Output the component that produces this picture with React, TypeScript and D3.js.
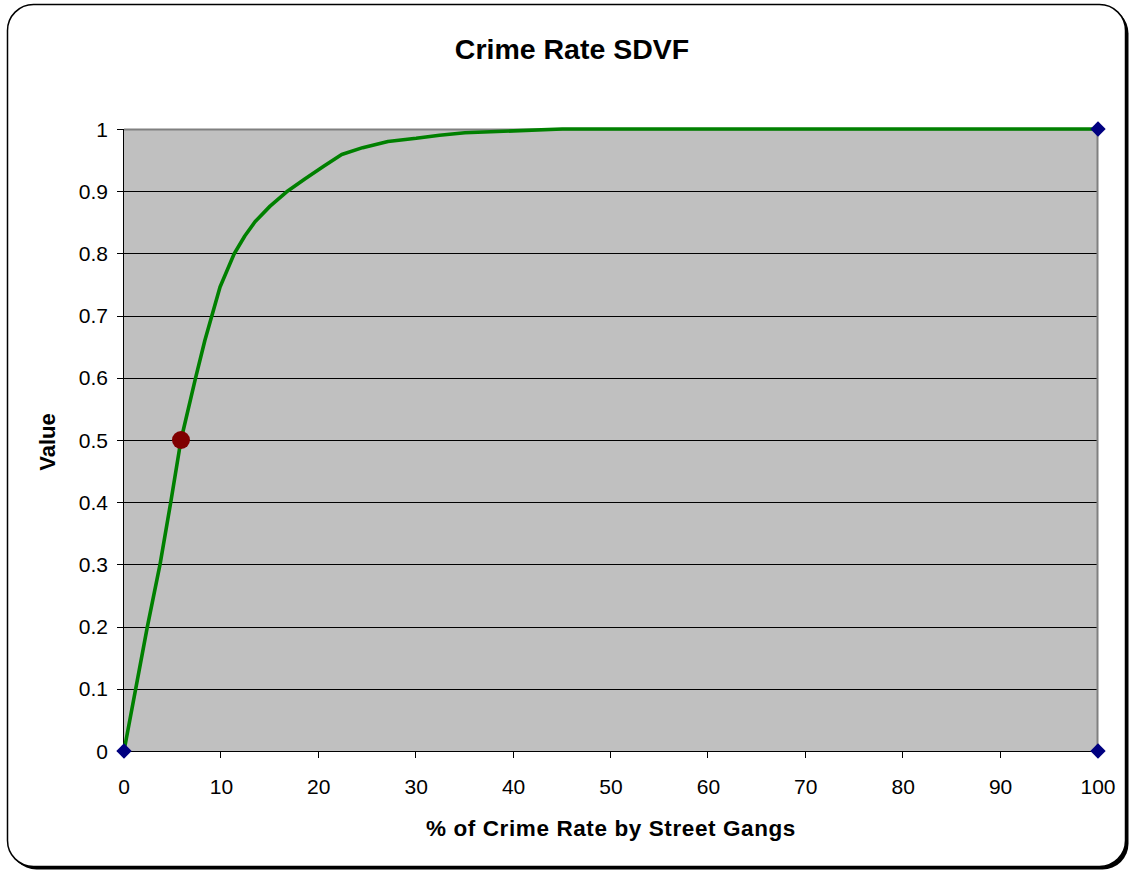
import React from "react";
import * as d3 from "d3";

const curveX = [0, 1.2, 2.4, 3.7, 4.8, 5.85, 7.35, 8.3, 9.86, 11.3, 12.4, 13.45, 15.0, 16.7, 18.6, 20.5, 22.35, 24.5, 27.1, 30.0, 32.4, 35.0, 40.0, 45.0, 100];
const curveY = [0, 0.1, 0.2, 0.3, 0.4, 0.5, 0.6, 0.66, 0.746, 0.799, 0.828, 0.851, 0.876, 0.899, 0.92, 0.94, 0.959, 0.97, 0.98, 0.985, 0.99, 0.994, 0.997, 1, 1];
const diamondX = [0, 100, 100];
const diamondY = [0, 0, 1];
const pointX = [5.85];
const pointY = [0.5];
const xTicks = [0, 10, 20, 30, 40, 50, 60, 70, 80, 90, 100];
const yTicks = [0, 0.1, 0.2, 0.3, 0.4, 0.5, 0.6, 0.7, 0.8, 0.9, 1];

const W = 1133, H = 871;
const L = 124, R = 1098, T = 129, B = 751;

export default function App() {
  const x = d3.scaleLinear().domain([0, 100]).range([L, R]);
  const y = d3.scaleLinear().domain([0, 1]).range([B, T]);
  const line = d3.line<number>().x((_, i) => x(curveX[i])).y((_, i) => y(curveY[i]));
  const font = "'Liberation Sans', Arial, sans-serif";
  return (
    <svg width={W} height={H} style={{ position: "absolute", left: 0, top: 0 }} fontFamily={font}>
      <rect x={10.5} y={7.5} width={1118} height={862} rx={26} fill="#000" />
      <rect x={7.5} y={4.5} width={1118} height={862} rx={26} fill="#fff" stroke="#000" strokeWidth={1.5} />
      <text x={572} y={59} textAnchor="middle" fontSize={28.5} fontWeight="bold">Crime Rate SDVF</text>
      <rect x={L} y={T} width={R - L} height={B - T} fill="#C0C0C0" />
      {yTicks.filter(t => t > 0 && t < 1).map(t => (
        <line key={t} x1={L} x2={R} y1={Math.round(y(t)) + 0.5} y2={Math.round(y(t)) + 0.5} stroke="#000" strokeWidth={1} />
      ))}
      <line x1={L} x2={R} y1={T + 0.5} y2={T + 0.5} stroke="#808080" strokeWidth={2} />
      <line x1={R - 0.5} x2={R - 0.5} y1={T} y2={B} stroke="#808080" strokeWidth={2} />
      <line x1={L - 0.5} x2={L - 0.5} y1={T} y2={B} stroke="#000" strokeWidth={1} />
      <line x1={L} x2={R} y1={B + 0.5} y2={B + 0.5} stroke="#000" strokeWidth={1} />
      {yTicks.map(t => (
        <g key={"y" + t}>
          <line x1={L - 7} x2={L} y1={Math.round(y(t)) + 0.5} y2={Math.round(y(t)) + 0.5} stroke="#000" />
          <text x={108} y={y(t) + 7.5} textAnchor="end" fontSize={21}>{t}</text>
        </g>
      ))}
      {xTicks.map(t => (
        <g key={"x" + t}>
          <line x1={Math.round(x(t)) - 0.5} x2={Math.round(x(t)) - 0.5} y1={B} y2={B + 7} stroke="#000" />
          <text x={x(t)} y={794} textAnchor="middle" fontSize={21}>{t}</text>
        </g>
      ))}
      <path d={line(curveX) || ""} fill="none" stroke="#008000" strokeWidth={3.6} strokeLinejoin="round" />
      {diamondX.map((d, i) => (
        <path key={"d" + i} d={d3.symbol().type(d3.symbolDiamond2).size(150)() || ""} transform={`translate(${x(d)},${y(diamondY[i])})`} fill="#000080" />
      ))}
      {pointX.map((p, i) => (
        <circle key={"p" + i} cx={x(p)} cy={y(pointY[i])} r={9} fill="#800000" />
      ))}
      <text x={611} y={836} textAnchor="middle" fontSize={22.5} fontWeight="bold" letterSpacing={0.6}>% of Crime Rate by Street Gangs</text>
      <text transform={`translate(55,442) rotate(-90)`} textAnchor="middle" fontSize={22} fontWeight="bold">Value</text>
    </svg>
  );
}
